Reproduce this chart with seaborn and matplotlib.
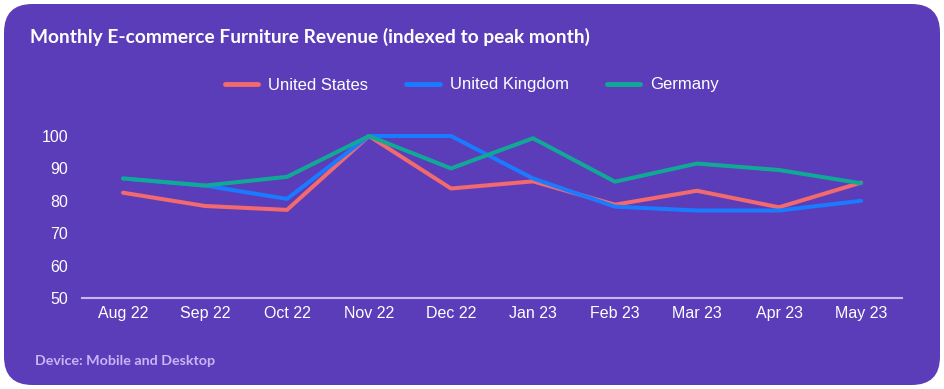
import numpy as np
import pandas as pd
import matplotlib
matplotlib.use("Agg")
import matplotlib.pyplot as plt
from matplotlib.patches import FancyBboxPatch
import seaborn as sns

months = ["Aug 22", "Sep 22", "Oct 22", "Nov 22", "Dec 22",
          "Jan 23", "Feb 23", "Mar 23", "Apr 23", "May 23"]
us = [82.5, 78.4, 77.2, 100, 83.8, 86.0, 78.8, 83.1, 78.0, 85.6]
uk = [86.9, 84.7, 80.6, 100, 100, 86.9, 78.2, 77.0, 77.0, 80.0]
de = [86.9, 84.7, 87.4, 100, 90.0, 99.3, 85.9, 91.5, 89.5, 85.4]
series = ["United States", "United Kingdom", "Germany"]
colors = ["#F26A6E", "#1A7BFF", "#10A996"]

df = pd.DataFrame({
    "month": np.tile(np.arange(len(months)), 3),
    "value": us + uk + de,
    "country": np.repeat(series, len(months)),
})

bg = "#5B3DBA"
sns.set_style("white")
plt.rcParams["font.family"] = ["Liberation Sans", "DejaVu Sans"]

fig = plt.figure(figsize=(9.44, 3.89), dpi=100)
fig.patch.set_facecolor("white")
box = FancyBboxPatch((4 / 944, 4 / 389), 936 / 944, 381 / 389,
                     boxstyle="round,pad=0,rounding_size=0.03",
                     transform=fig.transFigure, facecolor=bg, edgecolor="none",
                     mutation_aspect=944 / 389, zorder=-10)
fig.patches.append(box)

ax = fig.add_axes([82 / 944, 1 - 298 / 389, 820 / 944, 162 / 389])
ax.set_facecolor("none")
sns.lineplot(data=df, x="month", y="value", hue="country", hue_order=series,
             palette=colors, linewidth=2.9, ax=ax, clip_on=False, legend=False)

ax.set_xlim(-0.5, 9.5)
ax.set_ylim(50, 100)
ax.set_xticks(range(len(months)))
ax.set_xticklabels(months)
ax.set_yticks(range(50, 101, 10))
ax.set_xlabel("")
ax.set_ylabel("")
ax.tick_params(axis="both", length=0, labelcolor="white", labelsize=11.5)
ax.tick_params(axis="y", pad=10)
ax.tick_params(axis="x", pad=6)
for s in ["top", "right", "left"]:
    ax.spines[s].set_visible(False)
ax.spines["bottom"].set_color("#C7B6F2")
ax.spines["bottom"].set_linewidth(1.5)

handles = [plt.Line2D([], [], color=c, linewidth=3.5, solid_capstyle="round") for c in colors]
fig.legend(handles, series, loc="center", bbox_to_anchor=(472 / 944, 1 - 85 / 389),
           ncol=3, frameon=False, fontsize=12, labelcolor="white",
           handlelength=2.0, handletextpad=0.6, columnspacing=2.3)

fig.text(30 / 944, 1 - 37 / 389, "Monthly E-commerce Furniture Revenue (indexed to peak month)",
         color="white", fontsize=13.8, fontweight="bold", family=["Lato", "DejaVu Sans"],
         va="center", ha="left")
fig.text(35 / 944, 1 - 361 / 389, "Device: Mobile and Desktop",
         color="#C9B5F5", fontsize=10.3, fontweight="bold", family=["Lato", "DejaVu Sans"],
         va="center", ha="left")

fig.savefig("out.png", dpi=100, facecolor="white")
